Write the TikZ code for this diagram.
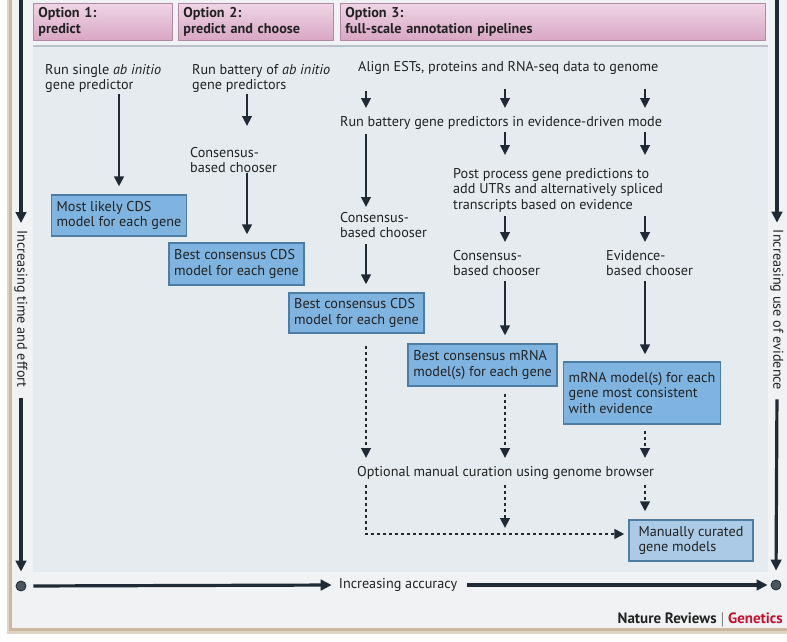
\documentclass[tikz,border=0pt]{standalone}
\usepackage{fontspec}
\setmainfont{PT Sans}
\usetikzlibrary{arrows.meta,calc}
\definecolor{cardc}{HTML}{F1F2F3}
\definecolor{panelc}{HTML}{E5EBEF}
\definecolor{shadowc}{HTML}{CDB89F}
\definecolor{pinktop}{HTML}{EFD5E4}
\definecolor{pinkbot}{HTML}{D8A6C4}
\definecolor{pinkedge}{HTML}{B08AA2}
\definecolor{boxfill}{HTML}{7FB4E0}
\definecolor{boxlight}{HTML}{AACAE5}
\definecolor{boxedge}{HTML}{4E7DA3}
\definecolor{arrc}{HTML}{1F2A34}
\definecolor{txtc}{HTML}{222222}
\definecolor{natred}{HTML}{C8102E}
\definecolor{sepc}{HTML}{B9C2C9}
\tikzset{
  fs/.style={font=\fontsize{14.2}{15.5}\selectfont},
  txt/.style={fs, align=left, inner sep=0pt, anchor=north west, text=txtc},
  hdr/.style={draw=pinkedge, line width=0.8pt, top color=pinktop, bottom color=pinkbot,
    anchor=north west, font=\bfseries\fontsize{14.2}{15.5}\selectfont, align=left,
    inner xsep=5pt, inner ysep=0pt, minimum height=37pt, text=txtc},
  gbox/.style={draw=boxedge, fill=boxfill, line width=1.2pt, fs, align=left,
    inner xsep=5pt, inner ysep=0pt, text=txtc},
  arr/.style={line width=2.9pt, draw=arrc, -{Triangle[length=10pt,width=9.5pt]}},
  darr/.style={arr, dash pattern=on 3pt off 3pt},
  axis/.style={line width=3.2pt, draw=arrc, -{Triangle[length=11pt,width=10.5pt]}},
  axdot/.style={circle, fill=arrc!80!white, draw=arrc, line width=0.8pt, minimum size=10pt, inner sep=0pt},
  axtxt/.style={fs, inner sep=0pt, text=txtc}
}
\begin{document}
\begin{tikzpicture}[x=1pt,y=-1pt]
\useasboundingbox (0,0) rectangle (787,642);
\fill[white] (0,0) rectangle (787,642);
% card and shadow
\fill[shadowc!60!white] (7,0) rectangle (787,634);
\fill[shadowc] (9,0) rectangle (787,631);
\fill[cardc] (12,0) rectangle (787,628);
\fill[panelc] (33,46) rectangle (768,572);
\draw[sepc, line width=1.8pt] (33,46) -- (768,46);

% headers
\node[hdr, text width=129pt] (h1) at (33,3) {Option 1:\\predict};
\node[hdr, text width=145pt] (h2) at (178,3) {Option 2:\\predict and choose};
\node[hdr, text width=415pt] (h3) at (340,3) {Option 3:\\full-scale annotation pipelines};

% column coordinates
\coordinate (X1) at (119,0);
\coordinate (X2) at (247,0);
\coordinate (X3) at (366,0);
\coordinate (X4) at (505,0);
\coordinate (X5) at (645,0);
\coordinate (corner) at (366,534);

% texts
\node[txt] (t1) at (45,64) {Run single \textit{ab initio}\\gene predictor};
\node[txt] (t2) at (192,64) {Run battery of \textit{ab initio}\\gene predictors};
\node[txt] (c2) at (190,147) {Consensus-\\based chooser};
\node[txt] (al) at (358,61) {Align ESTs, proteins and RNA-seq data to genome};
\node[txt] (rb) at (340,116) {Run battery gene predictors in evidence-driven mode};
\node[txt] (pp) at (453,168) {Post process gene predictions to\\add UTRs and alternatively spliced\\transcripts based on evidence};
\node[txt] (c3) at (340,212) {Consensus-\\based chooser};
\node[txt] (c4) at (453,250) {Consensus-\\based chooser};
\node[txt] (e1) at (606,250) {Evidence-\\based chooser};
\node[txt] (opt) at (357,466) {Optional manual curation using genome browser};

% boxes
\node[gbox, minimum width=134pt, minimum height=41pt] (b1) at (119,215.5) {Most likely CDS\\model for each gene};
\node[gbox, minimum width=135pt, minimum height=42pt] (b2) at (236.5,264) {Best consensus CDS\\model for each gene};
\node[gbox, minimum width=135pt, minimum height=40pt] (b3) at (356.5,313) {Best consensus CDS\\model for each gene};
\node[gbox, minimum width=149pt, minimum height=42pt] (b4) at (482.5,365) {Best consensus mRNA\\model(s) for each gene};
\node[gbox, minimum width=152pt, minimum height=62pt] (b5) at (642,393) {mRNA model(s) for each\\gene most consistent\\with evidence};
\node[gbox, fill=boxlight, minimum width=124pt, minimum height=41pt] (b6) at (691,540.5) {Manually curated\\gene models};

% solid arrows
\draw[arr, shorten <=1.3pt, shorten >=0pt] (t1.south -| X1) -- ($(b1.north)+(0,-8)$);
\draw[arr, shorten <=1.3pt] (t2.south -| X2) -- ($(c2.north -| X2)+(0,-21)$);
\draw[arr] (c2.south -| X2) -- ($(b2.north -| X2)+(0,-8)$);
\draw[arr, shorten <=16pt] (al.south -| X3) -- ($(rb.north -| X3)+(0,-8)$);
\draw[arr, shorten <=14pt] (al.south -| X4) -- ($(rb.north -| X4)+(0,-8)$);
\draw[arr, shorten <=14pt] (al.south -| X5) -- ($(rb.north -| X5)+(0,-8)$);
\draw[arr, shorten <=5pt] (rb.south -| X3) -- ($(c3.north -| X3)+(0,-5)$);
\draw[arr, shorten <=3pt] (rb.south -| X4) -- ($(pp.north -| X4)+(0,-13)$);
\draw[arr, shorten <=3pt] (rb.south -| X5) -- ($(pp.north -| X5)+(0,-13)$);
\draw[arr, shorten <=6pt] (c3.south -| X3) -- ($(b3.north -| X3)+(0,-8)$);
\draw[arr, shorten <=4pt] (pp.south -| X4) -- ($(c4.north -| X4)+(0,-8)$);
\draw[arr, shorten <=4pt] (pp.south -| X5) -- ($(e1.north -| X5)+(0,-8)$);
\draw[arr, shorten <=5pt] (c4.south -| X4) -- ($(b4.north -| X4)+(0,-8)$);
\draw[arr, shorten <=5pt] (e1.south -| X5) -- ($(b5.north -| X5)+(0,-7)$);

% dotted arrows
\draw[darr, shorten <=12pt] (b3.south -| X3) -- ($(opt.north -| X3)+(0,-8)$);
\draw[darr, shorten <=7pt] (b4.south -| X4) -- ($(opt.north -| X4)+(0,-8)$);
\draw[darr, shorten <=6pt] (b5.south -| X5) -- ($(opt.north -| X5)+(0,-8)$);
\draw[darr, shorten <=5pt, shorten >=4pt] (opt.south -| X3) -- (corner) -- (b6.west |- corner);
\draw[darr, shorten <=5pt, shorten >=6pt] (opt.south -| X4) -- (X4 |- corner);
\draw[darr, shorten <=5pt, shorten >=8pt] (opt.south -| X5) -- (b6.north -| X5);

% axes
\coordinate (LT) at (21,0);
\coordinate (RT) at (777,0);
\node[axdot] (ldot) at (21,586) {};
\node[axdot] (rdot) at (776,585) {};
\node[axtxt, rotate=-90] (ltxt) at (21,309) {Increasing time and effort};
\node[axtxt, rotate=-90] (rtxt) at (777,310) {Increasing use of evidence};
\node[axtxt] (acc) at (398,585) {Increasing accuracy};
\draw[axis, shorten >=7pt] (LT) -- (ltxt.west);
\draw[axis, shorten <=10pt, shorten >=9pt] (ltxt.east) -- (ldot.north);
\draw[axis, shorten >=7pt] (RT) -- (rtxt.west);
\draw[axis, shorten <=9pt, shorten >=9pt] (rtxt.east) -- (rdot.north);
\draw[axis, shorten <=7pt, shorten >=7pt] (ldot.east) -- (acc.west);
\draw[axis, shorten <=10pt, shorten >=3pt] (acc.east) -- (rdot.west);

\node[font=\bfseries\fontsize{15}{16}\selectfont, anchor=east, inner sep=0pt, text=txtc] (nr) at (783,620) {Nature Reviews {\mdseries$|$} \textcolor{natred}{Genetics}};
\end{tikzpicture}
\end{document}
